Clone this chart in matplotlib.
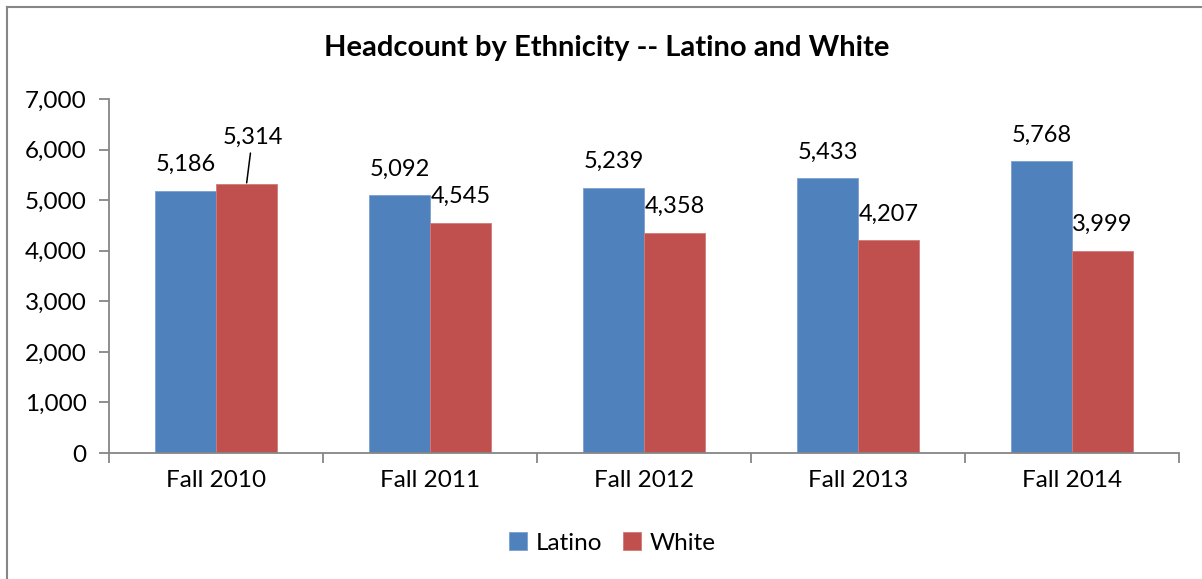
"""Bar chart of fall headcount for Latino and White students, 2010-2014."""
import matplotlib.pyplot as plt
import numpy as np
from matplotlib.lines import Line2D
from matplotlib.ticker import FuncFormatter, MultipleLocator

terms = ["Fall 2010", "Fall 2011", "Fall 2012", "Fall 2013", "Fall 2014"]
latino = [5186, 5092, 5239, 5433, 5768]
white = [5314, 4545, 4358, 4207, 3999]

# Label nudges in points (dx, dy) from the default spot above each bar.
white_label_nudge = [(4.3, 15), (0, 0), (0, 0), (0, 0), (0, 0)]

BLUE = "#4F81BD"
RED = "#C0504D"
GREY = "#868686"
FONT = "Lato"
SIZE = 17


def thousands(value, _pos):
    return f"{value:,.0f}"


def label_bars(ax, xs, values, nudges=None):
    for i, (x, value) in enumerate(zip(xs, values)):
        dx, dy = nudges[i] if nudges else (0, 0)
        leader = dict(arrowstyle="-", color="black", lw=1.1, shrinkB=1) if dy else None
        ax.annotate(
            f"{value:,}",
            xy=(x, value),
            xytext=(dx, 19 + dy),
            textcoords="offset points",
            ha="center",
            va="center",
            fontsize=SIZE,
            family=FONT,
            arrowprops=leader,
        )


def plot():
    fig = plt.figure(figsize=(12.02, 5.79), dpi=100)
    fig.patch.set_facecolor("white")

    # Chart area border: only the left and top edges fall inside the image.
    top = 1 - 6.5 / 579
    left = 7 / 1202
    fig.add_artist(Line2D([left, left], [0, top], color=GREY, lw=1.5, transform=fig.transFigure))
    fig.add_artist(Line2D([left, 1], [top, top], color=GREY, lw=1.5, transform=fig.transFigure))

    ax = fig.add_axes([109 / 1202, 1 - 453 / 579, (1179 - 109) / 1202, (453 - 99) / 579])

    x = np.arange(len(terms))
    width = 0.285
    ax.bar(x - width / 2, latino, width, color=BLUE, edgecolor="#7BA0D0", linewidth=0.6, label="Latino")
    ax.bar(x + width / 2, white, width, color=RED, edgecolor="#D07A78", linewidth=0.6, label="White")

    label_bars(ax, x - width / 2, latino)
    label_bars(ax, x + width / 2, white, white_label_nudge)

    ax.set_xlim(-0.5, len(terms) - 0.5)
    ax.set_ylim(0, 7000)
    ax.yaxis.set_major_locator(MultipleLocator(1000))
    ax.yaxis.set_major_formatter(FuncFormatter(thousands))

    # Category ticks sit on the group boundaries, names in between.
    ax.set_xticks(np.arange(len(terms) + 1) - 0.5)
    ax.set_xticklabels([])
    ax.set_xticks(x, minor=True)
    ax.set_xticklabels(terms, minor=True)
    ax.tick_params(axis="x", which="minor", length=0, pad=12)
    ax.tick_params(axis="x", which="major", length=7, color=GREY, width=1.3)
    ax.tick_params(axis="y", length=7, color=GREY, width=1.3, pad=9)

    for tick in ax.get_xticklabels(minor=True) + ax.get_yticklabels():
        tick.set_fontfamily(FONT)
        tick.set_fontsize(17.5)

    for side in ["top", "right"]:
        ax.spines[side].set_visible(False)
    for side in ["left", "bottom"]:
        ax.spines[side].set_color(GREY)
        ax.spines[side].set_linewidth(1.3)

    fig.text(
        607 / 1202,
        1 - 48 / 579,
        "Headcount by Ethnicity -- Latino and White",
        ha="center",
        va="center",
        fontsize=21,
        fontweight="bold",
        family=FONT,
    )

    fig.legend(
        loc="center",
        bbox_to_anchor=(612 / 1202, 1 - 543 / 579),
        ncol=2,
        frameon=False,
        prop={"family": FONT, "size": 17.5},
        handlelength=0.75,
        handleheight=0.75,
        handletextpad=0.35,
        columnspacing=0.85,
    )

    plt.savefig("out.png", dpi=100)


if __name__ == "__main__":
    plot()
